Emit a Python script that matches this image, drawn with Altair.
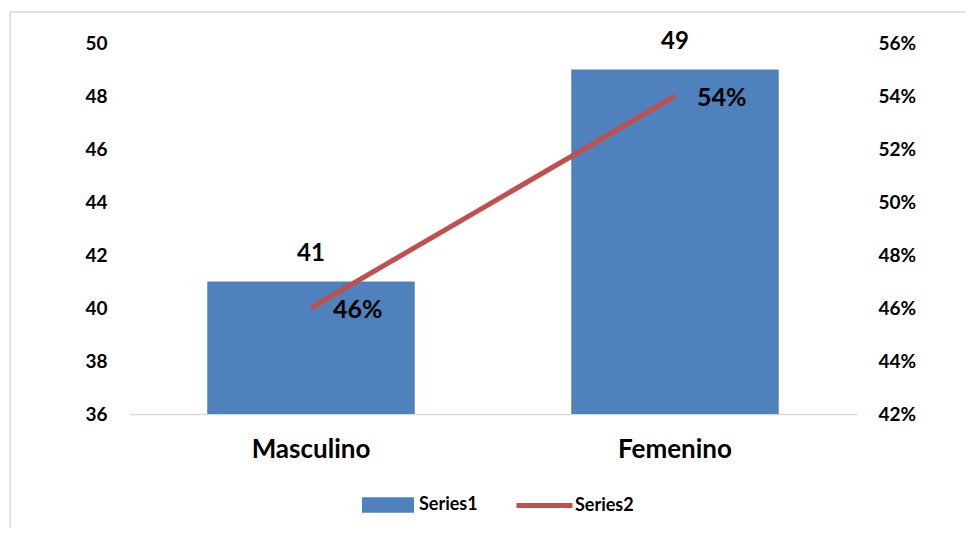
import altair as alt
import pandas as pd

categories = ["Masculino", "Femenino"]
counts = [41, 49]
shares = [0.46, 0.54]
series_names = ["Series1", "Series2"]
left_ticks = [36, 38, 40, 42, 44, 46, 48, 50]
right_ticks = [0.42, 0.44, 0.46, 0.48, 0.50, 0.52, 0.54, 0.56]

df = pd.DataFrame({
    "cat": categories,
    "count": counts,
    "pct": shares,
    "s1": [series_names[0]] * 2,
    "s2": [series_names[1]] * 2,
})

FONT = "Lato"
W, H = 728, 371

x_enc = alt.X(
    "cat:N", sort=categories, title=None,
    scale=alt.Scale(paddingInner=0.43, paddingOuter=0.215),
    axis=alt.Axis(labelAngle=0, labelFontSize=26, labelFontWeight="bold",
                  labelColor="#000000", labelPadding=22, ticks=False,
                  domainColor="#d9d9d9", domainWidth=1.5, grid=False,
                  labelFont=FONT),
)

y_left = alt.Y(
    "count:Q", title=None,
    scale=alt.Scale(domain=[36, 50], zero=False, nice=False),
    axis=alt.Axis(values=left_ticks, labelFontSize=19, labelFontWeight="bold",
                  labelColor="#000000", labelPadding=22, ticks=False,
                  domain=False, grid=False, labelFont=FONT),
)

y_right = alt.Y(
    "pct:Q", title=None,
    scale=alt.Scale(domain=[0.42, 0.56], zero=False, nice=False),
    axis=alt.Axis(values=right_ticks, format=".0%", orient="right",
                  labelFontSize=19, labelFontWeight="bold", labelColor="#000000",
                  labelPadding=21, ticks=False, domain=False, grid=False,
                  labelFont=FONT),
)

base = alt.Chart(df)

frame = alt.Chart(pd.DataFrame({"f": [0]})).mark_rect(
    fillOpacity=0, stroke="#d9d9d9", strokeWidth=1.5
).encode(x=alt.value(-119), x2=alt.value(880), y=alt.value(-31), y2=alt.value(540))

bars = base.mark_bar(clip=True).encode(
    x=x_enc,
    y=y_left,
    fill=alt.Fill(
        "s1:N", title=None,
        scale=alt.Scale(domain=[series_names[0]], range=["#4F81BD"]),
        legend=alt.Legend(orient="none", legendX=233, legendY=436, padding=0,
                          title=None, symbolType="M-1,-0.3H1V0.3H-1Z",
                          symbolSize=2704, symbolStrokeWidth=0, labelFontSize=18,
                          labelFontWeight="bold", labelColor="#000000", labelFont=FONT,
                          labelOffset=5),
    ),
)

bar_text = base.mark_text(
    fontSize=24, fontWeight="bold", font=FONT, color="#000000",
    baseline="middle", dy=-28,
).encode(x=alt.X("cat:N", sort=categories), y=alt.Y("count:Q"), text=alt.Text("count:Q"))

left_layer = alt.layer(frame, bars, bar_text)

line = base.mark_line(strokeWidth=5).encode(
    x=alt.X("cat:N", sort=categories),
    y=y_right,
    stroke=alt.Stroke(
        "s2:N", title=None,
        scale=alt.Scale(domain=[series_names[1]], range=["#C0504D"]),
        legend=alt.Legend(orient="none", legendX=385, legendY=432, padding=0,
                          title=None, symbolType="stroke",
                          symbolSize=3136, symbolStrokeWidth=5, labelFontSize=18,
                          labelFontWeight="bold", labelColor="#000000", labelFont=FONT,
                          labelOffset=0),
    ),
)

line_text = base.mark_text(
    fontSize=25, fontWeight="bold", font=FONT, color="#000000",
    align="left", baseline="middle", dx=22, dy=2,
).encode(x=alt.X("cat:N", sort=categories), y=alt.Y("pct:Q"),
         text=alt.Text("pct:Q", format=".0%"))

right_layer = alt.layer(line, line_text)

chart = alt.layer(left_layer, right_layer).resolve_scale(
    y="independent", fill="independent", stroke="independent"
).resolve_legend(fill="independent", stroke="independent").properties(
    width=W, height=H,
    autosize=alt.AutoSizeParams(type="none"),
    padding={"left": 121, "top": 35, "right": 109, "bottom": 114},
    background="#ffffff",
).configure_view(stroke=None)

chart.save("out.html", embed_options={"renderer": "svg", "actions": False})
